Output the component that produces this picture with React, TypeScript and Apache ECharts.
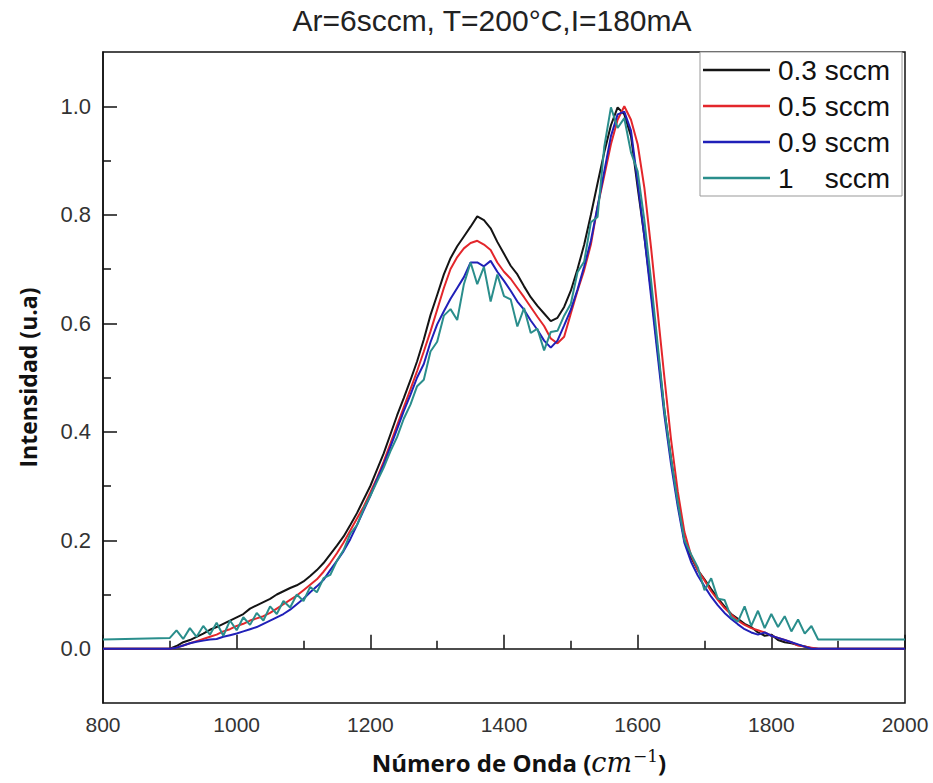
import React, { useEffect, useRef } from "react";
import * as echarts from "echarts";

const chartTitle = "Ar=6sccm, T=200°C,I=180mA";
const seriesNames = ["0.3 sccm", "0.5 sccm", "0.9 sccm", "1    sccm"];
const seriesColors = ["#141414", "#e3262b", "#2020b8", "#2a8e8c"];
const baselines = [0, 0, 0, 0.017];
const xTicks = [800, 1000, 1200, 1400, 1600, 1800, 2000];
const yMajorTicks = [0, 0.2, 0.4, 0.6, 0.8, 1.0];
const yMinorTicks = [0.1, 0.3, 0.5, 0.7, 0.9];

const waveNumbers = [
  900, 910, 920, 930, 940, 950, 960, 970, 980, 990,
  1000, 1010, 1020, 1030, 1040, 1050, 1060, 1070, 1080, 1090,
  1100, 1110, 1120, 1130, 1140, 1150, 1160, 1170, 1180, 1190,
  1200, 1210, 1220, 1230, 1240, 1250, 1260, 1270, 1280, 1290,
  1300, 1310, 1320, 1330, 1340, 1350, 1360, 1370, 1380, 1390,
  1400, 1410, 1420, 1430, 1440, 1450, 1460, 1470, 1480, 1490,
  1500, 1510, 1520, 1530, 1540, 1550, 1560, 1570, 1580, 1590,
  1600, 1610, 1620, 1630, 1640, 1650, 1660, 1670, 1680, 1690,
  1700, 1710, 1720, 1730, 1740, 1750, 1760, 1770, 1780, 1790,
  1800, 1810, 1820, 1830, 1840, 1850, 1860, 1870,
];

const flow03 = [
  0.000, 0.005, 0.012, 0.016, 0.022, 0.028, 0.035, 0.040, 0.046, 0.052,
  0.058, 0.064, 0.074, 0.080, 0.086, 0.092, 0.100, 0.106, 0.112, 0.117,
  0.124, 0.134, 0.145, 0.158, 0.174, 0.190, 0.207, 0.228, 0.250, 0.275,
  0.300, 0.330, 0.360, 0.395, 0.430, 0.462, 0.495, 0.530, 0.570, 0.615,
  0.652, 0.690, 0.720, 0.742, 0.760, 0.778, 0.797, 0.790, 0.775, 0.750,
  0.728, 0.706, 0.690, 0.668, 0.648, 0.632, 0.618, 0.604, 0.610, 0.630,
  0.660, 0.700, 0.745, 0.800, 0.858, 0.915, 0.965, 0.998, 0.985, 0.945,
  0.850, 0.760, 0.660, 0.550, 0.440, 0.350, 0.270, 0.200, 0.168, 0.145,
  0.128, 0.110, 0.093, 0.078, 0.064, 0.055, 0.046, 0.040, 0.030, 0.024,
  0.026, 0.016, 0.012, 0.010, 0.007, 0.004, 0.001, 0.000,
];

const flow05 = [
  0.000, 0.002, 0.006, 0.010, 0.014, 0.018, 0.022, 0.026, 0.032, 0.036,
  0.042, 0.046, 0.052, 0.056, 0.060, 0.066, 0.074, 0.082, 0.090, 0.098,
  0.108, 0.118, 0.128, 0.142, 0.158, 0.176, 0.196, 0.218, 0.240, 0.262,
  0.288, 0.315, 0.345, 0.378, 0.412, 0.445, 0.478, 0.512, 0.548, 0.585,
  0.625, 0.665, 0.700, 0.722, 0.738, 0.748, 0.752, 0.745, 0.735, 0.712,
  0.695, 0.682, 0.665, 0.648, 0.630, 0.612, 0.595, 0.572, 0.563, 0.575,
  0.618, 0.660, 0.698, 0.745, 0.815, 0.872, 0.930, 0.975, 1.000, 0.975,
  0.930, 0.850, 0.740, 0.620, 0.500, 0.385, 0.290, 0.215, 0.172, 0.145,
  0.126, 0.106, 0.090, 0.075, 0.063, 0.052, 0.044, 0.038, 0.034, 0.030,
  0.024, 0.020, 0.016, 0.012, 0.006, 0.004, 0.002, 0.000,
];

const flow09 = [
  0.000, 0.002, 0.006, 0.010, 0.013, 0.015, 0.017, 0.018, 0.022, 0.025,
  0.028, 0.032, 0.036, 0.040, 0.046, 0.052, 0.058, 0.064, 0.072, 0.082,
  0.092, 0.104, 0.115, 0.127, 0.145, 0.162, 0.180, 0.202, 0.228, 0.255,
  0.282, 0.312, 0.340, 0.372, 0.405, 0.438, 0.468, 0.500, 0.525, 0.565,
  0.598, 0.622, 0.645, 0.665, 0.685, 0.712, 0.712, 0.705, 0.715, 0.695,
  0.678, 0.660, 0.640, 0.625, 0.605, 0.588, 0.568, 0.555, 0.568, 0.596,
  0.625, 0.662, 0.705, 0.752, 0.815, 0.880, 0.945, 0.985, 0.990, 0.955,
  0.860, 0.760, 0.650, 0.540, 0.430, 0.340, 0.262, 0.195, 0.160, 0.135,
  0.115, 0.096, 0.080, 0.066, 0.055, 0.045, 0.036, 0.030, 0.026, 0.030,
  0.024, 0.020, 0.016, 0.012, 0.008, 0.004, 0.000, 0.000,
];

const flow1 = [
  0.020, 0.034, 0.018, 0.038, 0.022, 0.042, 0.026, 0.048, 0.024, 0.052,
  0.034, 0.058, 0.044, 0.066, 0.052, 0.078, 0.064, 0.088, 0.076, 0.100,
  0.088, 0.114, 0.104, 0.130, 0.136, 0.162, 0.182, 0.212, 0.228, 0.258,
  0.282, 0.308, 0.334, 0.364, 0.390, 0.424, 0.450, 0.484, 0.496, 0.548,
  0.566, 0.614, 0.626, 0.606, 0.672, 0.712, 0.672, 0.704, 0.640, 0.690,
  0.650, 0.644, 0.594, 0.628, 0.582, 0.590, 0.550, 0.584, 0.586, 0.614,
  0.636, 0.694, 0.714, 0.786, 0.796, 0.925, 0.998, 0.960, 0.978, 0.915,
  0.880, 0.790, 0.680, 0.560, 0.440, 0.350, 0.270, 0.200, 0.174, 0.150,
  0.108, 0.130, 0.092, 0.090, 0.058, 0.050, 0.078, 0.042, 0.070, 0.038,
  0.064, 0.040, 0.060, 0.032, 0.054, 0.028, 0.042, 0.017,
];

const allFlows = [flow03, flow05, flow09, flow1];

export default function App() {
  const ref = useRef<HTMLDivElement>(null);

  useEffect(() => {
    const chart = echarts.init(ref.current as HTMLDivElement, null, { renderer: "svg" });
    const xMin = xTicks[0];
    const xMax = xTicks[xTicks.length - 1];

    const series = allFlows.map((vals, k) => ({
      type: "line",
      name: seriesNames[k],
      showSymbol: false,
      symbol: "none",
      lineStyle: { color: seriesColors[k], width: 2 },
      itemStyle: { color: seriesColors[k] },
      data: [
        [xMin, baselines[k]],
        ...waveNumbers.map((x, i) => [x, vals[i]]),
        [xMax, baselines[k]],
      ],
      z: 2 + k,
    }));

    const labelFont = "'Liberation Sans', Arial, sans-serif";

    chart.setOption({
      animation: false,
      backgroundColor: "#ffffff",
      grid: {
        left: 103,
        right: 28,
        top: 52,
        bottom: 80,
        show: true,
        borderColor: "#111",
        borderWidth: 1.5,
        backgroundColor: "transparent",
      },
      graphic: [
        {
          type: "text",
          style: {
            text: chartTitle,
            x: 492,
            y: 20,
            align: "center",
            verticalAlign: "middle",
            fontSize: 30,
            fontFamily: labelFont,
            fill: "#222",
          },
        },
      ],
      legend: {
        orient: "vertical",
        left: 700,
        top: 52,
        padding: [3, 12, 3, 3],
        icon: "rect",
        itemWidth: 67,
        itemHeight: 2.5,
        itemGap: 6,
        backgroundColor: "#ffffff",
        borderColor: "#999",
        borderWidth: 1,
        borderRadius: 0,
        z: 20,
        data: seriesNames,
        textStyle: {
          fontSize: 28,
          lineHeight: 30,
          fontFamily: labelFont,
          color: "#111",
          padding: [0, 0, 0, 3],
        },
      },
      xAxis: {
        type: "value",
        min: xMin,
        max: xMax,
        interval: 200,
        name: "{a|Número de Onda (}{b|cm}{c|−1}{a|)}",
        nameLocation: "middle",
        nameGap: 44,
        nameTextStyle: {
          padding: [0, 0, 0, 30],
          rich: {
            a: { fontSize: 24, fontWeight: "bold", fontFamily: "'Open Sans', sans-serif", color: "#111" },
            b: { fontSize: 27, fontStyle: "italic", fontFamily: "'DejaVu Serif', 'Liberation Serif', serif", color: "#111" },
            c: { fontSize: 17, fontFamily: "'DejaVu Serif', serif", color: "#111", padding: [0, 0, 14, 1] },
          },
        },
        axisLine: { show: true, lineStyle: { color: "#111", width: 1.5 } },
        axisTick: { show: true, inside: true, length: 14, lineStyle: { color: "#111", width: 1.5 } },
        minorTick: { show: true, splitNumber: 2, length: 8, lineStyle: { color: "#111", width: 1.5 } },
        axisLabel: {
          fontSize: 21,
          fontFamily: labelFont,
          color: "#333",
          margin: 11,
          formatter: (v: number) => String(v),
        },
        splitLine: { show: false },
        minorSplitLine: { show: false },
      },
      yAxis: [
        {
          type: "value",
          min: -0.1,
          max: 1.1,
          name: "Intensidad (u.a)",
          nameLocation: "middle",
          nameGap: 64,
          nameTextStyle: { fontSize: 23, fontWeight: "bold", fontFamily: "'Open Sans', sans-serif", color: "#111" },
          axisLine: { show: true, lineStyle: { color: "#111", width: 1.5 } },
          axisTick: { show: true, inside: true, length: 14, customValues: yMajorTicks, lineStyle: { color: "#111", width: 1.5 } },
          axisLabel: {
            customValues: yMajorTicks,
            formatter: (v: number) => v.toFixed(1),
            fontSize: 22,
            fontFamily: labelFont,
            color: "#333",
            margin: 12,
          },
          splitLine: { show: false },
        },
        {
          type: "value",
          min: -0.1,
          max: 1.1,
          position: "left",
          axisLine: { show: false },
          axisTick: { show: true, inside: true, length: 8, customValues: yMinorTicks, lineStyle: { color: "#111", width: 1.5 } },
          axisLabel: { show: false },
          splitLine: { show: false },
        },
      ],
      series,
    });

    return () => chart.dispose();
  }, []);

  return (
    <div
      ref={ref}
      style={{ position: "absolute", left: 0, top: 0, width: 933, height: 783, background: "#fff" }}
    />
  );
}
